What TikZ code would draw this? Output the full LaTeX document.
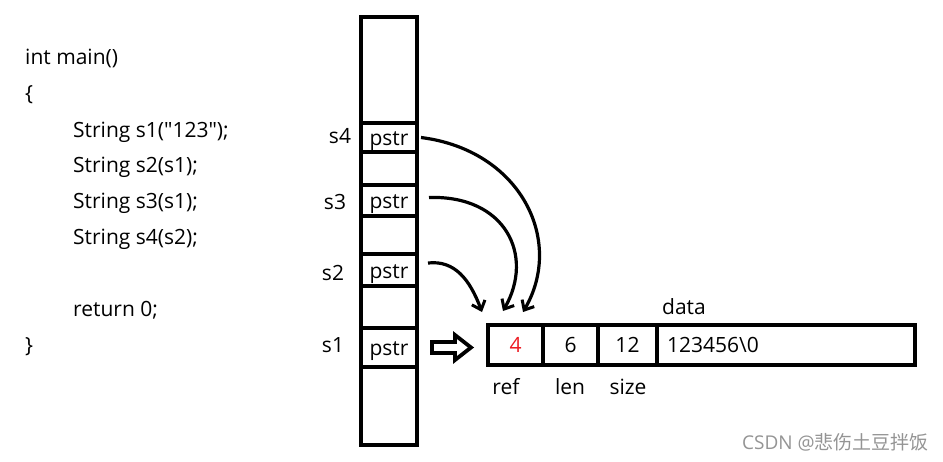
\documentclass[tikz,border=0pt]{standalone}
\usepackage{fontspec}
\setmainfont{Open Sans}[Ligatures=TeXOff]
\newfontfamily\cjk{Noto Sans CJK SC}
\usetikzlibrary{arrows.meta,calc}
\tikzset{
  fnt/.style={font=\fontsize{21}{24}\selectfont},
  code/.style={fnt, anchor=base west, inner sep=0pt},
  lbl/.style={fnt, inner sep=0pt},
  slot/.style={fnt, draw, line width=4pt, fill=white, minimum width=56pt, inner sep=0pt, text height=16pt, text depth=0pt},
  cell/.style={fnt, draw, line width=4.5pt, inner sep=0pt, minimum height=40pt, text height=15pt, text depth=0pt},
  hand/.style={line width=3.2pt, -{Straight Barb[length=8pt,width=14pt,line width=3pt]}},
}
\begin{document}
\begin{tikzpicture}[x=1pt,y=-1pt]
\useasboundingbox (0,0) rectangle (943,461);
% code
\node[code] (c1) at (25,64) {int main()};
\node[code] (c2) at (25,100) {\{};
\node[code] (c3) at (73,137) {String s1("123");};
\node[code] (c4) at (73,172) {String s2(s1);};
\node[code] (c5) at (73,208) {String s3(s1);};
\node[code] (c6) at (73,244) {String s4(s2);};
\node[code] (c7) at (73,316) {return 0;};
\node[code] (c8) at (25,352) {\}};
% stack
\node[draw, line width=4.5pt, minimum width=56pt, minimum height=428pt, inner sep=0pt] (stack) at (389,231) {};
\node[slot, minimum height=29pt] (p4) at (389,137.5) {pstr};
\node[slot, minimum height=31pt] (p3) at (389,200.5) {pstr};
\node[slot, minimum height=32pt] (p2) at (389,270) {pstr};
\node[slot, minimum height=39pt] (p1) at (389,347) {pstr};
\node[lbl] (l4) at (340,136) {s4};
\node[lbl] (l3) at (335,202) {s3};
\node[lbl] (l2) at (333,273) {s2};
\node[lbl] (l1) at (333,345) {s1};
% heap block
\node[cell, minimum width=55pt, text={rgb,255:red,237;green,28;blue,36}] (ref) at (515.5,345) {4};
\node[cell, minimum width=55pt] (len) at (570.5,345) {6};
\node[cell, minimum width=59pt] (size) at (627.5,345) {12};
\node[cell, minimum width=258pt, text width=238pt, align=left] (data) at (786,345) {123456\textbackslash 0};
\node[lbl] (tdata) at (684,307) {data};
\node[lbl] (tref) at (506,387) {ref};
\node[lbl] (tlen) at (570,387) {len};
\node[lbl] (tsize) at (628,387) {size};
% block arrow
\draw[line width=3.8pt, fill=white, line join=miter]
  (432,342) -- (455,342) -- (455,335) -- (471,347.5) -- (455,360) -- (455,353) -- (432,353) -- cycle;
% curved arrows
\coordinate (s2a) at ($(p2.east)+(9,-7)$);
\coordinate (e2) at (482,312);
\coordinate (s3a) at ($(p3.east)+(10,-3)$);
\coordinate (e3) at (503,311);
\coordinate (s4a) at ($(p4.east)+(2,0)$);
\coordinate (e4) at (523,312);
\draw[hand] (s2a) .. controls (455,260) and (470,280) .. (e2);
\draw[hand] (s3a) .. controls (505,195) and (535,255) .. (e3);
\draw[hand] (s4a) .. controls (520,150) and (565,240) .. (e4);
% watermark
\node[anchor=base east, inner sep=0pt, text=black!42, font=\fontsize{19}{22}\selectfont] (wm) at (929,449) {CSDN @{\cjk 悲伤土豆拌饭}};
\end{tikzpicture}
\end{document}
